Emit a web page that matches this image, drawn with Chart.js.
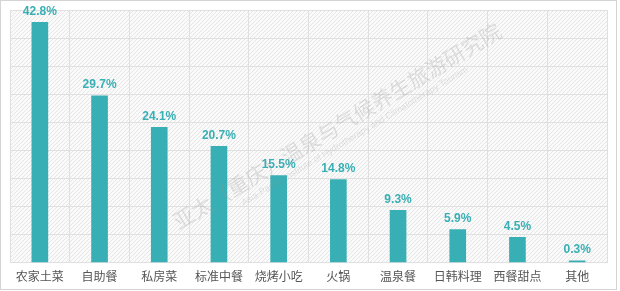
<!DOCTYPE html>
<html><head><meta charset="utf-8">
<script src="https://cdn.jsdelivr.net/npm/chart.js@4"></script>
<style>html,body{margin:0;padding:0;background:#fff}#wrap{width:620px;height:291px;position:relative}</style>
</head><body><div id="wrap"><canvas id="c"></canvas></div>
<script>
const categories = ["农家土菜","自助餐","私房菜","标准中餐","烧烤小吃","火锅","温泉餐","日韩料理","西餐甜点","其他"];
const values = [42.8, 29.7, 24.1, 20.7, 15.5, 14.8, 9.3, 5.9, 4.5, 0.3];
const yMax = 45, yStep = 5;
const teal = '#38afb4';

function hatch(ctx){
  const p = document.createElement('canvas'); p.width = 4; p.height = 4;
  const g = p.getContext('2d');
  g.fillStyle = '#fafafa'; g.fillRect(0,0,4,4);
  g.strokeStyle = '#e6e6e6'; g.lineWidth = 1;
  g.beginPath(); g.moveTo(0,4); g.lineTo(4,0); g.stroke();
  return ctx.createPattern(p,'repeat');
}
const bgPlugin = {
  id:'bg',
  beforeDraw(chart){
    const {ctx, chartArea:a} = chart;
    ctx.save();
    ctx.fillStyle = '#fff'; ctx.fillRect(0,0,chart.width,chart.height);
    ctx.fillStyle = hatch(ctx);
    ctx.fillRect(a.left,a.top,a.right-a.left,a.bottom-a.top);
    ctx.strokeStyle = '#d4d4d4'; ctx.lineWidth = 1;
    ctx.strokeRect(0.5,0.5,chart.width-4,chart.height-2);
    ctx.restore();
  },
  afterDatasetsDraw(chart){
    const {ctx} = chart;
    const meta = chart.getDatasetMeta(0);
    ctx.save();
    ctx.font = 'bold 12px "Liberation Sans", Arial, sans-serif';
    ctx.fillStyle = teal; ctx.textAlign = 'center'; ctx.textBaseline = 'bottom';
    meta.data.forEach((el,i)=>{ ctx.fillText(values[i].toFixed(1)+'%', el.x, el.y-5); });
    // watermark
    ctx.translate(337,126); ctx.rotate(-0.54);
    ctx.fillStyle = 'rgba(150,150,150,0.27)';
    ctx.font = '21px "Noto Sans CJK SC"'; ctx.textAlign='center'; ctx.textBaseline='middle';
    ctx.fillText('亚太（重庆）温泉与气候养生旅游研究院', 0, 0);
    ctx.font = '9px "Liberation Sans", Arial';
    ctx.fillStyle = 'rgba(150,150,150,0.25)';
    ctx.fillText('Asia-Pacific Institute of Hydrotherapy and Climatotherapy Tourism', 10, 18);
    ctx.restore();
  }
};
new Chart(document.getElementById('c'), {
  type:'bar',
  data:{labels:categories, datasets:[{data:values, backgroundColor:teal, barThickness:16}]},
  options:{
    responsive:true, maintainAspectRatio:false, animation:false,
    layout:{padding:{left:10,right:13,top:10,bottom:0}},
    plugins:{legend:{display:false}, tooltip:{enabled:false}},
    scales:{
      x:{grid:{color:'#e0e0e0', offset:true, drawTicks:false}, border:{color:'#e0e0e0'},
         ticks:{color:'#555', padding:7, font:{family:'"Noto Sans CJK SC"', size:12}}},
      y:{min:0, max:yMax, ticks:{display:false, stepSize:yStep}, grid:{color:'#e0e0e0', drawTicks:false}, border:{display:false}}
    }
  },
  plugins:[bgPlugin]
});
</script></body></html>
